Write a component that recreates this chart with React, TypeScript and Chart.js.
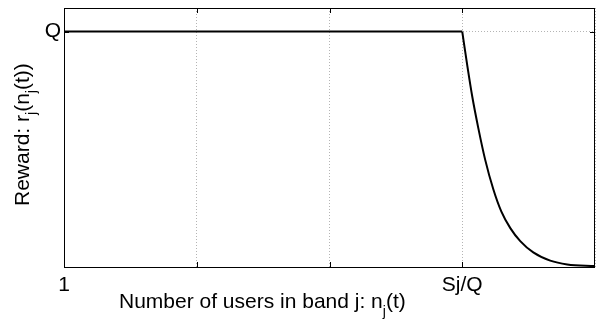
import React, { useEffect, useRef } from 'react';
import { Chart, registerables } from 'chart.js';

Chart.register(...registerables);

const xTickValues = [0, 1, 2, 3, 4];
const xTickLabels = ['1', '', '', 'Sj/Q', ''];
const yTickValues = [1];
const yTickLabels = ['Q'];

const flatX = [0, 3];
const flatY = [1, 1];
const decayX = [3, 3.038, 3.075, 3.121, 3.173, 3.234, 3.294, 3.362, 3.437, 3.535, 3.663, 3.791, 4];
const decayY = [1, 0.855, 0.725, 0.59, 0.455, 0.33, 0.236, 0.165, 0.11, 0.062, 0.027, 0.011, 0.004];

const xTitle = [
  { t: 'Number of users in band j: n', sub: false },
  { t: 'j', sub: true },
  { t: '(t)', sub: false },
];
const yTitle = [
  { t: 'Reward: r', sub: false },
  { t: 'j', sub: true },
  { t: '(n', sub: false },
  { t: 'j', sub: true },
  { t: '(t))', sub: false },
];

const FONT = '"Liberation Sans", Arial, Helvetica, sans-serif';
const MAIN = 21;

function drawRich(ctx: CanvasRenderingContext2D, segs: { t: string; sub: boolean }[], subOff: number) {
  let cx = 0;
  ctx.textBaseline = 'alphabetic';
  ctx.textAlign = 'left';
  ctx.fillStyle = '#000';
  for (const s of segs) {
    ctx.font = s.sub ? `14px ${FONT}` : `${MAIN}px ${FONT}`;
    ctx.fillText(s.t, cx, s.sub ? subOff : 0);
    cx += ctx.measureText(s.t).width;
  }
}

const framePlugin = {
  id: 'frame',
  afterDraw(chart: any) {
    const { ctx, chartArea: a, scales } = chart;
    ctx.save();
    ctx.strokeStyle = '#000';
    ctx.lineWidth = 1;
    ctx.strokeRect(Math.round(a.left) + 0.5, Math.round(a.top) + 0.5, Math.round(a.right - a.left) - 1, Math.round(a.bottom - a.top));
    ctx.beginPath();
    for (const v of xTickValues.slice(1, -1)) {
      const px = Math.round(scales.x.getPixelForValue(v)) + 0.5;
      ctx.moveTo(px, a.bottom);
      ctx.lineTo(px, a.bottom - 5);
      ctx.moveTo(px, a.top);
      ctx.lineTo(px, a.top + 5);
    }
    for (const v of yTickValues) {
      const py = Math.round(scales.y.getPixelForValue(v)) + 0.5;
      ctx.moveTo(a.left, py);
      ctx.lineTo(a.left + 5, py);
      ctx.moveTo(a.right, py);
      ctx.lineTo(a.right - 5, py);
    }
    ctx.stroke();
    ctx.save();
    ctx.translate(119, 308);
    drawRich(ctx, xTitle, 8);
    ctx.restore();
    ctx.save();
    ctx.translate(29, 206);
    ctx.rotate(-Math.PI / 2);
    drawRich(ctx, yTitle, 7);
    ctx.restore();
    ctx.restore();
  },
};

export default function App() {
  const ref = useRef<HTMLCanvasElement>(null);
  useEffect(() => {
    if (!ref.current) return;
    const chart = new Chart(ref.current, {
      type: 'line',
      data: {
        datasets: [
          {
            data: flatX.map((x, i) => ({ x, y: flatY[i] })),
            borderColor: '#000',
            borderWidth: 2,
            pointRadius: 0,
            tension: 0,
          },
          {
            data: decayX.map((x, i) => ({ x, y: decayY[i] })),
            borderColor: '#000',
            borderWidth: 2,
            pointRadius: 0,
            cubicInterpolationMode: 'monotone',
          },
        ],
      },
      options: {
        responsive: false,
        animation: false,
        layout: { padding: { top: 8, right: 2, left: 0, bottom: 0 } },
        plugins: { legend: { display: false }, tooltip: { enabled: false } },
        scales: {
          x: {
            type: 'linear',
            min: 0,
            max: 4,
            afterBuildTicks: (s: any) => {
              s.ticks = xTickValues.map((v) => ({ value: v }));
            },
            afterFit: (s: any) => {
              s.height = 53;
              s.paddingLeft = 0;
              s.paddingRight = 0;
            },
            ticks: {
              autoSkip: false,
              maxRotation: 0,
              padding: 6,
              color: '#000',
              font: { family: FONT, size: MAIN },
              callback: (_v: any, i: number) => xTickLabels[i],
            },
            grid: { color: '#b4b4b4', drawTicks: false, lineWidth: 1 },
            border: { display: false, dash: [1, 2] },
          },
          y: {
            type: 'linear',
            min: 0,
            max: 1.1,
            afterBuildTicks: (s: any) => {
              s.ticks = yTickValues.map((v) => ({ value: v }));
            },
            afterFit: (s: any) => {
              s.width = 64;
              s.paddingTop = 0;
              s.paddingBottom = 0;
            },
            ticks: {
              padding: 3,
              color: '#000',
              font: { family: FONT, size: MAIN },
              callback: (_v: any, i: number) => yTickLabels[i],
            },
            grid: { color: '#b4b4b4', drawTicks: false, lineWidth: 1 },
            border: { display: false, dash: [1, 2] },
          },
        },
      },
      plugins: [framePlugin],
    });
    return () => chart.destroy();
  }, []);
  return (
    <div style={{ position: 'absolute', left: 0, top: 0, width: 597, height: 320, background: '#fff' }}>
      <canvas ref={ref} width={597} height={320} />
    </div>
  );
}
